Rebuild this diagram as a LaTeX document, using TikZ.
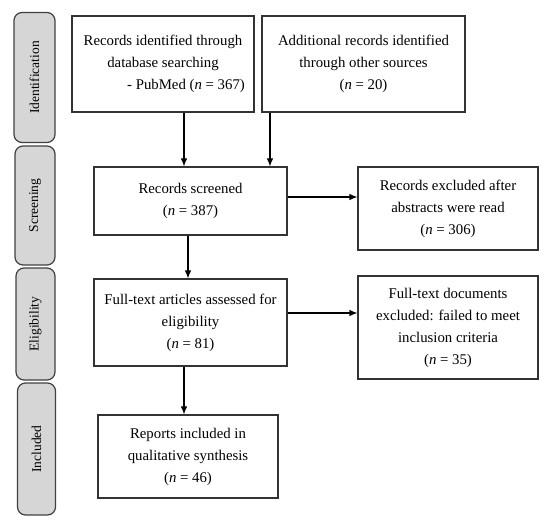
\documentclass[tikz,border=0pt]{standalone}
\usepackage{fontspec}
\setmainfont{Liberation Serif}
\usetikzlibrary{arrows.meta}
\tikzset{
	stagebox/.style={draw=black!75, line width=1.2pt, fill=black!16, rounded corners=8pt, rotate=90, inner sep=0pt, font=\fontsize{13.5}{15}\selectfont},
	flowbox/.style={draw=black!80, line width=1.1pt, align=center, inner sep=0pt, font=\fontsize{14.8}{22}\selectfont},
	flowarrow/.style={line width=1.1pt, -{Latex[length=8pt,width=6.5pt]}}
}

\begin{document}
\begin{tikzpicture}[x=1pt, y=-1pt]
			%%%%% START %%%%%
			\useasboundingbox (0, 0) rectangle (550, 523);
			
			\node[stagebox, minimum width=130, minimum height=41] (ident) at (34.5, 77.5) {Identification};
			\node[stagebox, minimum width=119, minimum height=40] (screen) at (35, 205.5) {Screening};
			\node[stagebox, minimum width=112, minimum height=39] (elig) at (35.5, 324) {Eligibility};
			\node[stagebox, minimum width=132, minimum height=38] (incl) at (36.5, 449) {Included};
			
			\node[flowbox, minimum width=182, minimum height=96] (dbrec) at (163, 64) {Records identified through\\database searching\\\hspace*{46pt}- PubMed (\textit{n} = 367)};
			\node[flowbox, minimum width=203, minimum height=96] (otherrec) at (363.5, 64) {Additional records identified\\through other sources\\(\textit{n} = 20)};
			
			\node[flowbox, minimum width=193, minimum height=68] (scrrec) at (190.5, 201) {Records screened\\(\textit{n} = 387)};
			\node[flowbox, minimum width=180, minimum height=83] (absexcl) at (448, 208.5) {Records excluded after\\abstracts were read\\(\textit{n} = 306)};
			
			\node[flowbox, minimum width=193, minimum height=87] (ftart) at (190.5, 322.5) {Full-text articles assessed for\\eligibility\\(\textit{n} = 81)};
			\node[flowbox, minimum width=180, minimum height=103] (ftexcl) at (448, 327.5) {Full-text documents\\excluded: failed to meet\\inclusion criteria\\(\textit{n} = 35)};
			
			\node[flowbox, minimum width=180, minimum height=83] (report) at (188, 456.5) {Reports included in\\qualitative synthesis\\(\textit{n} = 46)};
			
			\draw[flowarrow] ([xshift=21pt]dbrec.south) -- ([xshift=21pt]dbrec.south |- scrrec.north);
			\draw[flowarrow] ([xshift=-93.5pt]otherrec.south) -- ([xshift=-93.5pt]otherrec.south |- scrrec.north);
			\draw[flowarrow] ([xshift=-2.5pt]scrrec.south) -- ([xshift=-2.5pt]scrrec.south |- ftart.north);
			\draw[flowarrow] ([xshift=-6.5pt]ftart.south) -- ([xshift=-6.5pt]ftart.south |- report.north);
			
			\draw[flowarrow] ([yshift=4pt]scrrec.east) -- ([yshift=4pt]scrrec.east -| absexcl.west);
			\draw[flowarrow] ([yshift=9.5pt]ftart.east) -- ([yshift=9.5pt]ftart.east -| ftexcl.west);
			%%%%% END %%%%%
\end{tikzpicture}
\end{document}
